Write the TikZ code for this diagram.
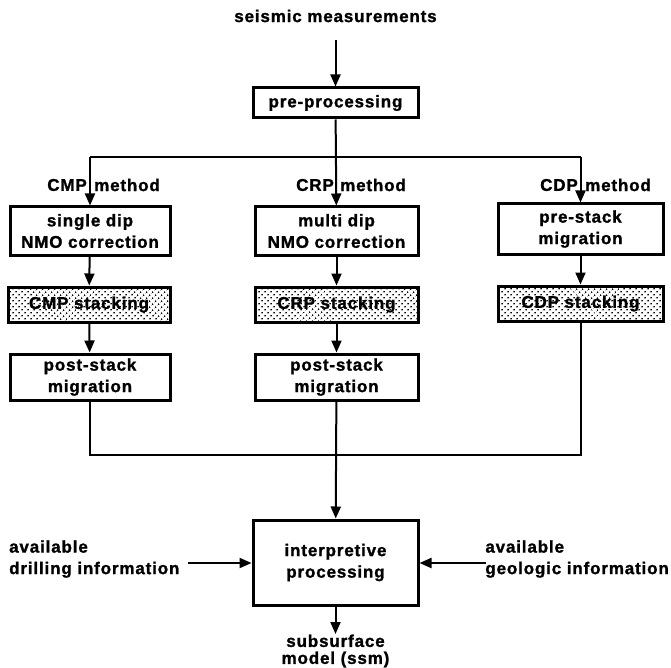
\documentclass[tikz,border=0pt]{standalone}
\usepackage{fontspec}
\setmainfont{Liberation Sans}[LetterSpace=5,BoldFeatures={FakeBold=1.3}]
\usetikzlibrary{arrows.meta,patterns.meta}
\begin{document}
\begin{tikzpicture}[x=1pt,y=-1pt,
  every node/.style={font=\fontsize{17}{21.5}\selectfont\bfseries},
  box/.style={draw,line width=3pt,align=center,inner sep=0pt},
  stackbox/.style={box,pattern={Dots[distance=4pt,angle=45,radius=1pt]},pattern color=black},
  conn/.style={line width=2pt},
  arr/.style={conn,-{Triangle[length=12pt,width=10pt]}},
  lbl/.style={inner sep=0pt}]
\useasboundingbox (0,0) rectangle (671,668);
\node[lbl] (sm) at (335.5,16) {seismic measurements};
\node[box,minimum width=165,minimum height=30] (pre) at (335.5,103) {pre-processing};
\node[box,minimum width=160,minimum height=48] (single) at (90,231) {single dip\\NMO correction};
\node[box,minimum width=163,minimum height=48] (multi) at (336.5,231) {multi dip\\NMO correction};
\node[box,minimum width=165,minimum height=50] (prest) at (580.5,229) {pre-stack\\migration};
\node[stackbox,minimum width=162,minimum height=35] (cmps) at (89,304.5) {CMP stacking};
\node[stackbox,minimum width=163,minimum height=35] (crps) at (336.5,304.5) {CRP stacking};
\node[stackbox,minimum width=165,minimum height=35] (cdps) at (580.5,303.5) {CDP stacking};
\node[box,minimum width=160,minimum height=46] (post1) at (90,377) {post-stack\\migration};
\node[box,minimum width=163,minimum height=46] (post2) at (336.5,377) {post-stack\\migration};
\node[box,minimum width=165,minimum height=85] (interp) at (335.5,562.5) {interpretive\\processing};
\node[lbl,align=left,anchor=west] (drill) at (9,559) {available\\drilling information};
\node[lbl,align=left,anchor=east] (geo) at (669,559) {available\\geologic information};
\node[lbl,align=center,font=\fontsize{17}{17}\selectfont\bfseries] (ssm) at (335.5,651) {subsurface\\model (ssm)};
% method labels
\node[lbl,anchor=east] (l1a) at (87,185) {CMP};
\node[lbl,anchor=west] (l1b) at (94,185) {method};
\node[lbl,anchor=east] (l2a) at (334,185) {CRP};
\node[lbl,anchor=west] (l2b) at (340,185) {method};
\node[lbl,anchor=east] (l3a) at (578,185) {CDP};
\node[lbl,anchor=west] (l3b) at (585,185) {method};
% coordinates
\coordinate (c0) at (335.5,40);
\coordinate (sl) at (90,157);
\coordinate (sr) at (580.5,157);
\coordinate (ml) at (90,455);
\coordinate (mr) at (580.5,455);
\coordinate (dl) at (188,563);
\coordinate (gr) at (486,563);
\coordinate (so) at (335.5,634);
% connectors
\draw[arr] (c0) -- (pre);
\draw[arr] (pre) -- (multi);
\draw[conn] (sl) -- (sr);
\draw[arr] (sl) -- (single);
\draw[arr] (sr) -- (prest);
\draw[arr] (single) -- (cmps);
\draw[arr] (cmps) -- (post1);
\draw[arr] (multi) -- (crps);
\draw[arr] (crps) -- (post2);
\draw[arr] (prest) -- (cdps);
\draw[conn] (post1.south) -- (ml) -- (mr) -- (cdps.south);
\draw[arr] (post2) -- (interp);
\draw[arr] (dl) -- (interp.west|-dl);
\draw[arr] (gr) -- (interp.east|-gr);
\draw[arr] (interp) -- (so);
\end{tikzpicture}
\end{document}
